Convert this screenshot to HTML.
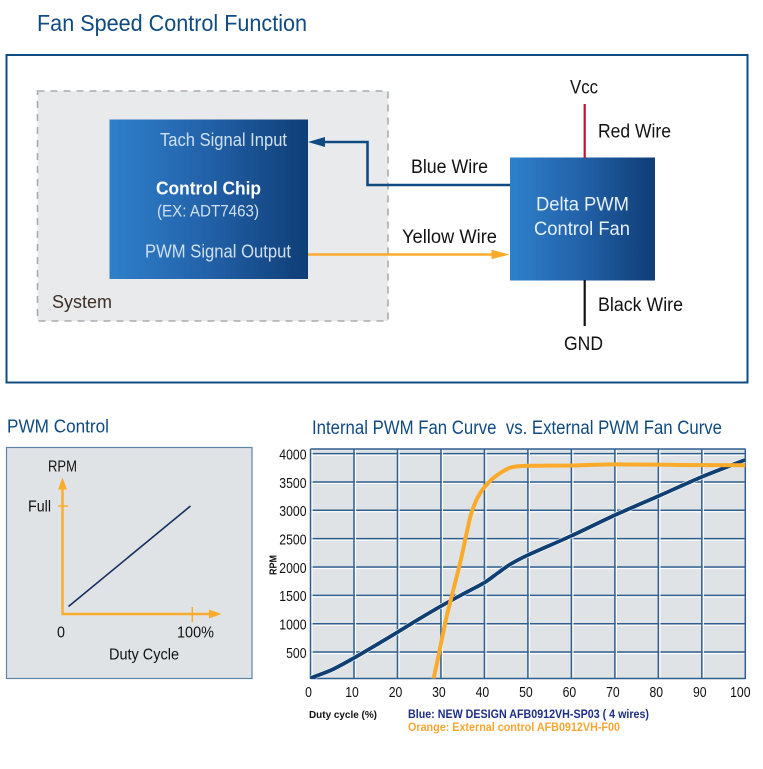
<!DOCTYPE html>
<html lang="en">
<head>
<meta charset="utf-8">
<title>Fan Speed Control Function</title>
<style>
html,body{margin:0;padding:0;background:#fff;}
svg{display:block;}
text{font-family:"Liberation Sans",sans-serif;}
</style>
</head>
<body>
<svg id="root" xmlns="http://www.w3.org/2000/svg" width="763" height="769" viewBox="0 0 763 769">
<defs>
<linearGradient id="boxGrad" x1="0" y1="0" x2="1" y2="0">
<stop offset="0" stop-color="#2f80cb"/>
<stop offset="0.5" stop-color="#2261a8"/>
<stop offset="1" stop-color="#0f3d75"/>
</linearGradient>
<clipPath id="plotClip"><rect x="310.5" y="449" width="435" height="229.5"/></clipPath>
</defs>
<rect x="0" y="0" width="763" height="769" fill="#fff"/>

<text x="37" y="31" font-size="23" fill="#0f4a80" textLength="270" lengthAdjust="spacingAndGlyphs">Fan Speed Control Function</text>
<rect x="6.5" y="55" width="741" height="327.5" fill="#fff" stroke="#0f4c81" stroke-width="2"/>

<rect x="37.5" y="91" width="350.5" height="230" fill="#e9eaec" stroke="#a9abae" stroke-width="1.6" stroke-dasharray="7 6"/>
<text x="52" y="308" font-size="18.5" fill="#3e2c26" textLength="60" lengthAdjust="spacingAndGlyphs">System</text>

<rect x="109.5" y="119.5" width="198.5" height="159.5" fill="url(#boxGrad)"/>
<text x="160" y="146" font-size="18" fill="#cfe0f0" textLength="127" lengthAdjust="spacingAndGlyphs">Tach Signal Input</text>
<text x="156" y="194.5" font-size="18.5" font-weight="bold" fill="#fff" textLength="105" lengthAdjust="spacingAndGlyphs">Control Chip</text>
<text x="157" y="216.5" font-size="17" fill="#cfe0f0" textLength="102" lengthAdjust="spacingAndGlyphs">(EX: ADT7463)</text>
<text x="145" y="257.5" font-size="18" fill="#cfe0f0" textLength="146" lengthAdjust="spacingAndGlyphs">PWM Signal Output</text>

<polyline points="322,142 367.5,142 367.5,185 510,185" fill="none" stroke="#0f4a80" stroke-width="2.6"/>
<polygon points="308,142 325,137 325,147" fill="#0f4a80"/>
<line x1="308" y1="254.5" x2="494" y2="254.5" stroke="#fbab2c" stroke-width="2.6"/>
<polygon points="509.5,254.5 491.5,249.8 491.5,259.2" fill="#fbab2c"/>
<text x="411" y="173" font-size="19" fill="#111" textLength="77" lengthAdjust="spacingAndGlyphs">Blue Wire</text>
<text x="402" y="243" font-size="19" fill="#111" textLength="95" lengthAdjust="spacingAndGlyphs">Yellow Wire</text>

<rect x="510" y="157.5" width="145" height="123" fill="url(#boxGrad)"/>
<text x="536" y="210.5" font-size="19" fill="#e6f0f8" textLength="93" lengthAdjust="spacingAndGlyphs">Delta PWM</text>
<text x="534" y="235" font-size="19" fill="#e6f0f8" textLength="96" lengthAdjust="spacingAndGlyphs">Control Fan</text>
<line x1="584.7" y1="104" x2="584.7" y2="158" stroke="#c8102e" stroke-width="2.2"/>
<line x1="584.7" y1="280" x2="584.7" y2="326" stroke="#111" stroke-width="2.2"/>
<text x="570" y="93.5" font-size="19" fill="#111" textLength="28" lengthAdjust="spacingAndGlyphs">Vcc</text>
<text x="598" y="137.5" font-size="19" fill="#111" textLength="73" lengthAdjust="spacingAndGlyphs">Red Wire</text>
<text x="598" y="311" font-size="19" fill="#111" textLength="85" lengthAdjust="spacingAndGlyphs">Black Wire</text>
<text x="564" y="350" font-size="19" fill="#111" textLength="39" lengthAdjust="spacingAndGlyphs">GND</text>

<text x="7" y="432.5" font-size="18.5" fill="#0f4a80" textLength="102" lengthAdjust="spacingAndGlyphs">PWM Control</text>
<rect x="6.5" y="447.5" width="245.5" height="231" fill="#e0e3e6" stroke="#5f85a5" stroke-width="1.2"/>
<line x1="62.5" y1="615" x2="62.5" y2="486" stroke="#fbab2c" stroke-width="2.4"/>
<polygon points="62.5,477.5 58,489.5 67,489.5" fill="#fbab2c"/>
<line x1="61.5" y1="614" x2="212" y2="614" stroke="#fbab2c" stroke-width="2.4"/>
<polygon points="221.5,614 209,609.5 209,618.5" fill="#fbab2c"/>
<line x1="58" y1="506" x2="68" y2="506" stroke="#fbab2c" stroke-width="1.5"/>
<line x1="192.3" y1="607" x2="192.3" y2="622" stroke="#fbab2c" stroke-width="1.5"/>
<line x1="68.5" y1="606.5" x2="190.5" y2="506" stroke="#14305f" stroke-width="1.6"/>
<text x="48" y="471.5" font-size="15.5" fill="#111" textLength="29" lengthAdjust="spacingAndGlyphs">RPM</text>
<text x="28" y="511.5" font-size="15.5" fill="#111" textLength="23" lengthAdjust="spacingAndGlyphs">Full</text>
<text x="57" y="637.5" font-size="15.5" fill="#111" textLength="8" lengthAdjust="spacingAndGlyphs">0</text>
<text x="177" y="637.5" font-size="15.5" fill="#111" textLength="37" lengthAdjust="spacingAndGlyphs">100%</text>
<text x="109" y="659.5" font-size="15.5" fill="#111" textLength="70" lengthAdjust="spacingAndGlyphs">Duty Cycle</text>

<text x="312" y="434" font-size="19" fill="#0f4a80" textLength="410" lengthAdjust="spacingAndGlyphs" xml:space="preserve">Internal PWM Fan Curve  vs. External PWM Fan Curve</text>
<rect x="310.5" y="449" width="435" height="229.5" fill="#e0e3e6"/>
<g id="grid"></g>
<g id="series" clip-path="url(#plotClip)"></g>
<g id="ticks"></g>

<text transform="translate(276.5,575) rotate(-90)" font-size="10" font-weight="bold" fill="#111" textLength="20" lengthAdjust="spacingAndGlyphs">RPM</text>
<text x="309" y="718" font-size="10.5" font-weight="bold" fill="#111" textLength="68" lengthAdjust="spacingAndGlyphs">Duty cycle (%)</text>
<text x="408" y="718" font-size="11.5" font-weight="bold" fill="#1c2f87" textLength="241" lengthAdjust="spacingAndGlyphs">Blue: NEW DESIGN AFB0912VH-SP03 ( 4 wires)</text>
<text x="408" y="731" font-size="11.5" font-weight="bold" fill="#f9a630" textLength="212" lengthAdjust="spacingAndGlyphs">Orange: External control AFB0912VH-F00</text>
</svg>

<script>
var xTicks = [0, 10, 20, 30, 40, 50, 60, 70, 80, 90, 100];
var yTicks = [500, 1000, 1500, 2000, 2500, 3000, 3500, 4000];
var blueDuty = [0, 5, 10, 15, 20, 25, 30, 35, 40, 43, 46, 50, 60, 70, 80, 90, 100];
var blueRpm = [40, 190, 395, 620, 850, 1085, 1310, 1520, 1725, 1890, 2050, 2210, 2550, 2915, 3250, 3590, 3890];
var orangeDuty = [28.2, 29.4, 31.3, 34.4, 35.9, 37.1, 39, 42, 45.9, 50, 60, 70, 85, 100];
var orangeRpm = [0, 418, 1123, 2068, 2597, 2976, 3300, 3565, 3750, 3785, 3790, 3810, 3800, 3795];

var NS = 'http://www.w3.org/2000/svg';
function xScale(d) { return 310.5 + d * 4.348; }
function yScale(v) { return 680.4 - v * 0.0567; }

function makeLine(parent, x1, y1, x2, y2, color, width) {
  var l = document.createElementNS(NS, 'line');
  l.setAttribute('x1', x1);
  l.setAttribute('y1', y1);
  l.setAttribute('x2', x2);
  l.setAttribute('y2', y2);
  l.setAttribute('stroke', color);
  l.setAttribute('stroke-width', width);
  parent.appendChild(l);
  return l;
}

function smoothPath(xs, ys) {
  var pts = xs.map(function (d, i) { return [xScale(d), yScale(ys[i])]; });
  var out = 'M' + pts[0][0].toFixed(2) + ' ' + pts[0][1].toFixed(2);
  var t = 0.14;
  for (var i = 0; i < pts.length - 1; i++) {
    var p0 = pts[Math.max(i - 1, 0)], p1 = pts[i], p2 = pts[i + 1], p3 = pts[Math.min(i + 2, pts.length - 1)];
    out += ' C' + (p1[0] + (p2[0] - p0[0]) * t).toFixed(2) + ' ' + (p1[1] + (p2[1] - p0[1]) * t).toFixed(2) +
      ' ' + (p2[0] - (p3[0] - p1[0]) * t).toFixed(2) + ' ' + (p2[1] - (p3[1] - p1[1]) * t).toFixed(2) +
      ' ' + p2[0].toFixed(2) + ' ' + p2[1].toFixed(2);
  }
  return out;
}

var grid = document.getElementById('grid');
var seriesGroup = document.getElementById('series');
var ticksGroup = document.getElementById('ticks');
var gridColor = '#2f5f8f';
var plotTop = 449, plotBottom = 678.5, plotLeft = 310.5, plotRight = 745.5;

yTicks.forEach(function (v) {
  var y = yScale(v);
  var shade = makeLine(grid, plotLeft, y + 1.5, plotRight, y + 1.5, '#fff', 1.2);
  
  
  var h = makeLine(grid, plotLeft, y, plotRight, y, gridColor, 1.5);
  
  
  var label = document.createElementNS(NS, 'text');
  
  
  label.setAttribute('x', 306.5);
  label.setAttribute('y', (y + 5.8).toFixed(1));
  label.setAttribute('font-size', '14.5');
  label.setAttribute('fill', '#111');
  label.setAttribute('text-anchor', 'end');
  label.setAttribute('textLength', String(v).length * 6.8);
  label.setAttribute('lengthAdjust', 'spacingAndGlyphs');
  label.textContent = String(v);
  ticksGroup.appendChild(label);
});

xTicks.forEach(function (d) {
  var x = xScale(d);
  var shade = makeLine(grid, x + 1.5, plotTop, x + 1.5, plotBottom, '#fff', 1.2);
  
  
  var v = makeLine(grid, x, plotTop, x, plotBottom + 0.5, gridColor, 1.5);
  
  
  var label = document.createElementNS(NS, 'text');
  
  
  label.setAttribute('x', (x - (d === 100 ? 5 : 2)).toFixed(1));
  label.setAttribute('y', 697);
  label.setAttribute('font-size', '14.5');
  label.setAttribute('fill', '#111');
  label.setAttribute('text-anchor', 'middle');
  label.setAttribute('textLength', String(d).length * 6.8);
  label.setAttribute('lengthAdjust', 'spacingAndGlyphs');
  label.textContent = String(d);
  ticksGroup.appendChild(label);
});

var topLine = makeLine(grid, plotLeft, plotTop, plotRight, plotTop, gridColor, 1.5);


var bottomLine = makeLine(grid, plotLeft, plotBottom, plotRight, plotBottom, gridColor, 1.5);



var blueHalo = document.createElementNS(NS, 'path');


blueHalo.setAttribute('d', smoothPath(blueDuty, blueRpm));
blueHalo.setAttribute('fill', 'none');
blueHalo.setAttribute('stroke', '#fff');
blueHalo.setAttribute('stroke-width', '5');
seriesGroup.appendChild(blueHalo);

var bluePath = document.createElementNS(NS, 'path');


bluePath.setAttribute('d', smoothPath(blueDuty, blueRpm));
bluePath.setAttribute('fill', 'none');
bluePath.setAttribute('stroke', '#0f3f73');
bluePath.setAttribute('stroke-width', '3.8');
seriesGroup.appendChild(bluePath);

var orangePath = document.createElementNS(NS, 'path');


orangePath.setAttribute('d', smoothPath(orangeDuty, orangeRpm));
orangePath.setAttribute('fill', 'none');
orangePath.setAttribute('stroke', '#fbab2c');
orangePath.setAttribute('stroke-width', '4');
seriesGroup.appendChild(orangePath);
</script>
</body>
</html>
